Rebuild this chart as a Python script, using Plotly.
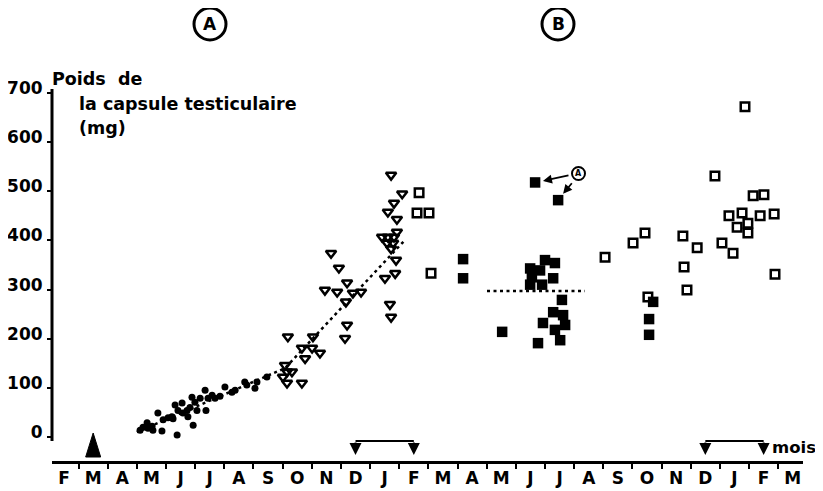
import plotly.graph_objects as go

# ---------------- data ----------------
month_labels = ["F", "M", "A", "M", "J", "J", "A", "S", "O", "N", "D", "J", "F",
                "M", "A", "M", "J", "J", "A", "S", "O", "N", "D", "J", "F", "M"]
y_ticks = [0, 100, 200, 300, 400, 500, 600, 700]

# group A: small filled dots (month index, mg)
dots_month = [2.61, 2.71, 2.85, 2.88, 3.02, 3.05, 3.22, 3.36, 3.40, 3.57, 3.70, 3.74, 3.88,
              3.81, 3.91, 4.05, 4.08, 4.22, 4.25, 4.32, 4.39, 4.43, 4.49, 4.56, 4.67, 4.84,
              4.87, 4.94, 5.08, 5.18, 5.35, 5.52, 5.76, 5.87, 6.20, 6.27, 6.55, 6.62, 6.96]
dots_mg = [14, 20, 29, 18, 22, 14, 49, 12, 35, 39, 41, 37, 4,
           65, 54, 69, 49, 54, 41, 60, 81, 24, 71, 54, 79, 95,
           54, 79, 85, 79, 83, 102, 91, 95, 112, 106, 99, 112, 122]

# group A: open triangles
tri_month = [9.16, 9.43, 8.95, 9.37, 9.71, 9.91, 10.19, 9.67, 9.71, 9.64, 7.68, 8.54, 8.16,
             8.51, 8.78, 8.27, 7.58, 7.65, 7.82, 7.51, 7.65, 8.16,
             11.22, 11.60, 11.32, 11.11, 11.42, 11.42, 10.91, 11.11, 11.32, 11.08, 11.29,
             11.22, 11.39, 11.36, 11.01, 11.18, 11.22]
tri_mg = [374, 344, 299, 295, 314, 293, 295, 275, 228, 201, 204, 204, 181,
          181, 171, 160, 146, 133, 133, 122, 110, 110,
          533, 495, 476, 458, 443, 417, 407, 407, 407, 395, 395,
          383, 360, 333, 323, 270, 244]

# open squares
osq_month = [12.18, 12.11, 12.52, 12.59, 18.56, 19.52, 19.93, 20.03, 21.23, 21.27, 21.37,
             21.72, 22.33, 22.57, 22.81, 22.95, 23.09, 23.26, 23.36, 23.46, 23.46, 23.64,
             23.88, 24.01, 24.36, 24.39]
osq_mg = [497, 456, 456, 333, 366, 395, 415, 285, 409, 346, 299,
          385, 531, 395, 450, 374, 427, 456, 672, 435, 415, 491,
          450, 493, 454, 331]

# filled squares
fsq_month = [13.69, 13.69, 15.03, 15.99, 15.99, 16.05, 16.16, 16.26, 16.33, 16.40, 16.43,
             16.50, 16.78, 16.78, 16.84, 16.84, 16.95, 17.02, 17.08, 17.12, 17.19,
             20.07, 20.07, 20.21]
fsq_mg = [362, 323, 214, 343, 310, 325, 518, 191, 339, 310, 232,
          360, 323, 254, 354, 218, 482, 197, 279, 248, 228,
          240, 208, 275]

# dotted trend lines
trendA_month = [2.50, 6.79, 7.58, 11.70]
trendA_mg = [10, 120, 140, 401]
trendB_month = [14.51, 17.87]
trendB_mg = [297, 297]

# brackets (month index of start / end) and the birth arrow
bracket_start = [10, 22]
bracket_end = [12, 24]
birth_month = 1

# ---------------- geometry helpers (reference pixel -> paper) ----------------
OFF = 8                      # page body margin
W, H = 823 - 2 * OFF, 491 - OFF
L = 52 - OFF                 # plot left  at reference x = 52
R = (W + OFF) - 803          # plot right at reference x = 803
T = 85 - OFF                 # plot top   at reference y = 85
B = (H + OFF) - 461          # plot bottom at reference y = 461
PW, PH = W - L - R, H - T - B


def xp(px):
    return (px - OFF - L) / PW


def yp(py):
    return (H - B - (py - OFF)) / PH


FONT = "DejaVu Sans"

fig = go.Figure()

fig.add_trace(go.Scatter(x=trendA_month, y=trendA_mg, mode="lines",
                         line=dict(color="black", width=2.5, dash="3px,3.5px"),
                         hoverinfo="skip"))
fig.add_trace(go.Scatter(x=trendB_month, y=trendB_mg, mode="lines",
                         line=dict(color="black", width=2.5, dash="3px,3.5px"),
                         hoverinfo="skip"))
fig.add_trace(go.Scatter(x=dots_month, y=dots_mg, mode="markers",
                         marker=dict(symbol="circle", size=7, color="black")))
fig.add_trace(go.Scatter(x=tri_month, y=tri_mg, mode="markers",
                         marker=dict(symbol="triangle-down-open", size=9, color="black",
                                     line=dict(width=2.5))))
fig.add_trace(go.Scatter(x=osq_month, y=osq_mg, mode="markers",
                         marker=dict(symbol="square-open", size=8.5, color="black",
                                     line=dict(width=2.5))))
fig.add_trace(go.Scatter(x=fsq_month, y=fsq_mg, mode="markers",
                         marker=dict(symbol="square", size=10.5, color="black",
                                     line=dict(width=0))))

shapes = []
annotations = []

# y axis line (0 -> 700) as in the reference
shapes.append(dict(type="line", xref="paper", yref="y", x0=0, x1=0, y0=-8, y1=708,
                   line=dict(color="black", width=3)))

# birth arrow (tall narrow filled triangle) at M
shapes.append(dict(type="path", xref="x", yref="paper", xsizemode="pixel",
                   xanchor=birth_month, ysizemode="pixel", yanchor=yp(457),
                   path="M -7.5,0 L 7.5,0 L 0,24 Z",
                   fillcolor="black", line=dict(color="black", width=1)))

# brackets D -> F with downward arrows
for s, e in zip(bracket_start, bracket_end):
    shapes.append(dict(type="line", xref="x", yref="paper", x0=s, x1=e,
                       y0=yp(441), y1=yp(441), line=dict(color="black", width=2)))
    for m in (s, e):
        annotations.append(dict(x=m, y=yp(455), xref="x", yref="paper",
                                ax=0, ay=-14, axref="pixel", ayref="pixel",
                                text="", showarrow=True, arrowhead=2, arrowsize=1.2,
                                arrowwidth=2, arrowcolor="black", standoff=0))

# circled A and B
for cx, letter in ((210, "A"), (558, "B")):
    shapes.append(dict(type="circle", xref="paper", yref="paper",
                       x0=xp(cx - 16), x1=xp(cx + 16), y0=yp(40), y1=yp(8),
                       line=dict(color="black", width=3)))
    annotations.append(dict(x=xp(cx), y=yp(24), xref="paper", yref="paper",
                            xanchor="center", yanchor="middle",
                            text=letter, showarrow=False,
                            font=dict(family=FONT, size=17, color="black", weight="bold")))

# small circled A with arrows in group B
shapes.append(dict(type="circle", xref="paper", yref="paper",
                   x0=xp(572), x1=xp(585), y0=yp(180), y1=yp(167),
                   line=dict(color="black", width=2)))
annotations.append(dict(x=xp(578.5), y=yp(173.5), xref="paper", yref="paper",
                        xanchor="center", yanchor="middle",
                        text="A", showarrow=False,
                        font=dict(family=FONT, size=8, color="black", weight="bold")))
annotations.append(dict(x=16.43, y=521, xref="x", yref="y", ax=27, ay=-6,
                        text="", showarrow=True, arrowhead=2, arrowsize=1,
                        arrowwidth=1.8, arrowcolor="black", standoff=0))
annotations.append(dict(x=17.12, y=495, xref="x", yref="y", ax=10, ay=-12,
                        text="", showarrow=True, arrowhead=2, arrowsize=1,
                        arrowwidth=1.8, arrowcolor="black", standoff=0))

# axis title lines
title_font = dict(family=FONT, size=17.5, color="black", weight="bold")
for tx, ty, txt in ((50, 79, "Poids&nbsp; de"), (77, 104, "la capsule testiculaire"),
                    (77, 128, "(mg)")):
    annotations.append(dict(x=xp(tx), y=yp(ty), xref="paper", yref="paper",
                            xanchor="left", yanchor="middle",
                            text=txt, showarrow=False, font=title_font))
annotations.append(dict(x=xp(770), y=yp(447), xref="paper", yref="paper",
                        xanchor="left", yanchor="middle",
                        text="mois", showarrow=False,
                        font=dict(family=FONT, size=16.5, color="black", weight="bold")))

tickfont = dict(family=FONT, size=17, color="black", weight="bold")

fig.update_layout(
    width=W, height=H,
    margin=dict(l=L, r=R, t=T, b=B, autoexpand=False),
    plot_bgcolor="white", paper_bgcolor="white",
    showlegend=False,
    shapes=shapes, annotations=annotations,
    xaxis=dict(range=[-0.412, 25.35], showline=True, linewidth=3, linecolor="black",
               tickmode="array", tickvals=list(range(len(month_labels))),
               ticktext=month_labels, ticks="", showgrid=False, zeroline=False,
               tickfont=tickfont, automargin=False, ticklabelstandoff=0,
               minor=dict(tick0=0.5, dtick=1, ticks="outside", ticklen=5,
                          tickwidth=2, tickcolor="black", showgrid=False)),
    yaxis=dict(range=[-48.8, 716.3], showline=False, tickmode="array",
               tickvals=y_ticks, ticktext=[str(v) for v in y_ticks],
               ticks="outside", ticklen=4, tickwidth=2, tickcolor="black",
               showgrid=False, zeroline=False, tickfont=tickfont,
               automargin=False, ticklabelshift=-5, ticklabelstandoff=1),
)

fig.write_html("out.html")
